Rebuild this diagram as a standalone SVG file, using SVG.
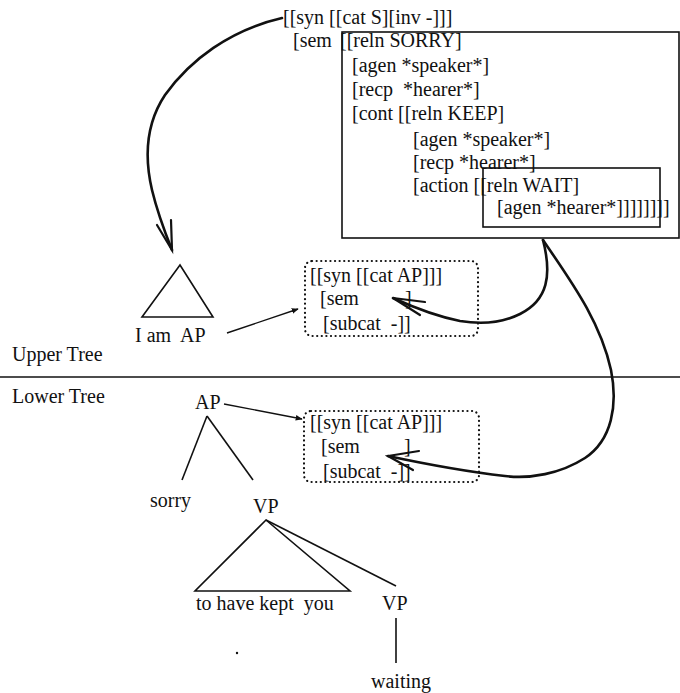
<svg xmlns="http://www.w3.org/2000/svg" width="680" height="693" viewBox="0 0 680 693">
  <style>
    text { font-family: "Liberation Serif", "Times New Roman", serif; font-size: 20px; fill: #111; white-space: pre; }
    .frame { fill: none; stroke: #111; stroke-width: 1.6; }
    .dotted { fill: none; stroke: #111; stroke-width: 2.2; stroke-dasharray: 0.1 4.5; stroke-linecap: round; }
    .edge { fill: none; stroke: #111; stroke-width: 1.6; }
    .link { fill: none; stroke: #111; stroke-width: 1.4; }
    .curve { fill: none; stroke: #111; stroke-width: 2.6; stroke-linecap: round; }
    .barb { fill: none; stroke: #111; stroke-width: 2.2; stroke-linecap: round; }
    .rule { stroke: #111; stroke-width: 1.6; }
  </style>
  <defs>
    <marker id="tip" viewBox="0 0 10 10" refX="9" refY="5" markerWidth="7" markerHeight="7" orient="auto" markerUnits="userSpaceOnUse">
      <path d="M0,1 L10,5 L0,9 Z" fill="#111"/>
    </marker>
  </defs>

  <rect width="680" height="693" fill="#fff"/>

  <!-- feature structure of the sentence -->
  <g id="fs-sentence">
    <rect class="frame" x="342" y="32" width="337" height="206"/>
    <rect class="frame" x="483" y="168" width="177" height="59"/>
    <text x="283" y="24">[[syn [[cat S][inv -]]]</text>
    <text x="293" y="47">[sem</text>
    <text x="340" y="47">[[reln SORRY]</text>
    <text x="352" y="72">[agen *speaker*]</text>
    <text x="352" y="96">[recp  *hearer*]</text>
    <text x="352" y="120">[cont [[reln KEEP]</text>
    <text x="413" y="146">[agen *speaker*]</text>
    <text x="413" y="169">[recp *hearer*]</text>
    <text x="413" y="192">[action [[reln WAIT]</text>
    <text x="497" y="214">[agen *hearer*]]]]]]]]</text>
  </g>

  <!-- upper tree -->
  <g id="upper-tree">
    <path class="edge" d="M180,265 L142,317 L213,317 Z"/>
    <text x="135" y="342">I am  AP</text>
  </g>

  <g id="upper-ap-fs">
    <rect class="dotted" x="305" y="261" width="173" height="75" rx="7"/>
    <text x="310" y="282">[[syn [[cat AP]]]</text>
    <text x="320" y="305">[sem</text>
    <text x="405" y="305">]</text>
    <text x="323" y="330">[subcat  -]]</text>
  </g>

  <!-- divider between the two trees -->
  <g id="divider">
    <line class="rule" x1="0" y1="377" x2="680" y2="377"/>
    <text x="12" y="361">Upper Tree</text>
    <text x="12" y="403">Lower Tree</text>
  </g>

  <!-- lower tree -->
  <g id="lower-ap">
    <text x="195" y="409">AP</text>
    <line class="edge" x1="207" y1="416" x2="182" y2="480"/>
    <line class="edge" x1="207" y1="416" x2="253" y2="480"/>
  </g>
  <g id="lower-sorry">
    <text x="150" y="507">sorry</text>
  </g>
  <g id="lower-vp">
    <text x="253" y="513">VP</text>
    <path class="edge" d="M266,520 L195,591 L350,591 Z"/>
    <line class="edge" x1="266" y1="520" x2="396" y2="586"/>
    <text x="196" y="610">to have kept  you</text>
  </g>
  <g id="lower-vp2">
    <text x="382" y="610">VP</text>
    <line class="edge" x1="396" y1="618" x2="396" y2="663"/>
    <text x="371" y="688">waiting</text>
  </g>
  <circle cx="237" cy="653" r="1.2" fill="#111"/>

  <g id="lower-ap-fs">
    <rect class="dotted" x="304" y="411" width="175" height="71" rx="7"/>
    <text x="310" y="429">[[syn [[cat AP]]]</text>
    <text x="321" y="453">[sem</text>
    <text x="404" y="453">]</text>
    <text x="323" y="478">[subcat  -]]</text>
  </g>

  <!-- connectors -->
  <g id="connectors">
    <line class="link" x1="227" y1="333" x2="298" y2="309" marker-end="url(#tip)"/>
    <line class="link" x1="224" y1="404" x2="302" y2="419" marker-end="url(#tip)"/>

    <path class="curve" d="M282,18 C230,30 190,60 165,95 C145,125 145,160 152,190 C158,215 166,235 172,250"/>
    <path class="barb" d="M157,225 L172,250 L171,220"/>

    <path class="curve" d="M543,240 C552,275 548,300 520,314 C500,324 478,324 460,321 C440,317 415,308 393,298"/>
    <path class="barb" d="M425,302 L393,298 L420,315"/>

    <path class="curve" d="M543,240 C570,280 600,320 611,370 C618,405 612,440 585,458 C560,474 530,479 505,476 C470,472 430,465 388,456"/>
    <path class="barb" d="M419,451 L388,456 L413,470"/>
  </g>
</svg>
